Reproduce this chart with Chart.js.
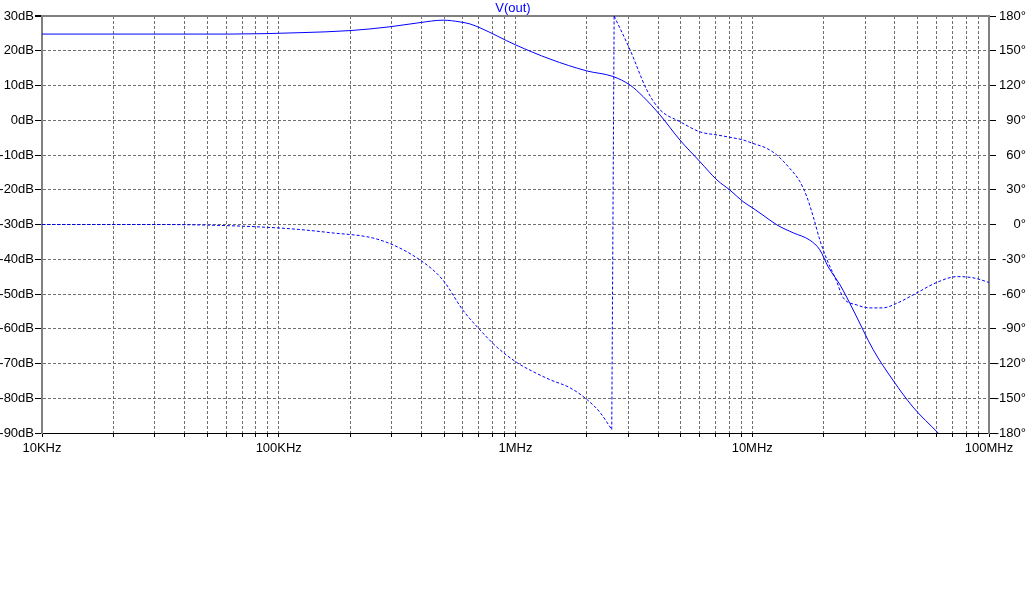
<!DOCTYPE html>
<html>
<head>
<meta charset="utf-8">
<script src="https://cdn.jsdelivr.net/npm/chart.js@4.4.1/dist/chart.umd.min.js"></script>
<style>
  body { margin: 0; background: #fff; }
  canvas { display: block; }
</style>
</head>
<body>
<canvas id="bode" width="1026" height="600"></canvas>
<script>
// magnitude (solid)
const magFreq = [1e4, 6.23e4, 1.23e5, 2.0e5, 2.95e5, 3.95e5, 4.94e5, 5.83e5, 6.43e5, 7.08e5,
  1.0e6, 1.4e6, 2.0e6, 2.58e6, 3.05e6, 3.46e6, 4.08e6, 4.95e6, 6.01e6, 7.1e6,
  8.05e6, 9.14e6, 1.007e7, 1.11e7, 1.27e7, 1.49e7, 1.75e7, 1.93e7, 2.09e7, 2.35e7,
  2.67e7, 3.24e7, 3.93e7, 4.77e7, 6.1e7];
const magDb = [24.8, 24.8, 25.2, 25.8, 26.9, 28.1, 28.8, 28.3, 27.7, 26.6,
  21.7, 17.6, 14.2, 12.6, 10.1, 6.8, 1.5, -5.7, -11.9, -17.2,
  -20.1, -23.4, -25.3, -27.3, -30.1, -32.4, -34.5, -37.3, -42.1, -47.4,
  -54.6, -66, -74.8, -82.5, -90];

// phase (dotted), before and after the wrap at -180/+180
const phaseLowFreq = [1e4, 3e4, 1e5, 1.64e5, 2.68e5, 3.95e5, 4.94e5, 6.0e5, 7.08e5, 8.36e5,
  1.01e6, 1.15e6, 1.4e6, 1.7e6, 2.0e6, 2.27e6, 2.55e6];
const phaseLowDeg = [0, 0, -3, -7, -13.4, -30.6, -48, -74, -91, -106,
  -119, -125.6, -134, -141, -151, -162, -177];
const phaseHighFreq = [2.61e6, 3.05e6, 3.59e6, 4.08e6, 4.95e6, 6.01e6, 7.1e6, 8.05e6, 9.14e6,
  1.007e7, 1.15e7, 1.27e7, 1.44e7, 1.59e7, 1.7e7, 1.81e7, 1.93e7, 2.07e7, 2.26e7,
  2.42e7, 2.77e7, 3.14e7, 3.56e7, 4.08e7, 4.96e7, 6.02e7, 7.32e7, 8.56e7, 1e8];
const phaseHighDeg = [180, 150.6, 116, 99, 88.8, 80, 77.3, 75.3, 73,
  70, 65.8, 60, 48.5, 37, 24, 6.7, -13.4, -30.6, -48,
  -63, -69.5, -72, -72, -68, -59, -50, -45, -46, -50];

const decadeFreq = [1e4, 1e5, 1e6, 1e7, 1e8];
const decadeLabels = ['10KHz', '100KHz', '1MHz', '10MHz', '100MHz'];

const gridFreq = [];
for (let d = 0; d < decadeFreq.length - 1; d++) {
  for (let m = 1; m <= 9; m++) gridFreq.push(decadeFreq[d] * m);
}
gridFreq.push(decadeFreq[decadeFreq.length - 1]);

const pts = (xs, ys) => xs.map((x, i) => ({ x: x, y: ys[i] }));
const font = { family: '"Liberation Sans", Arial, sans-serif', size: 13 };
const blue = '#0000ff';
const gridGray = '#707070';
const frameGray = '#808080';

new Chart(document.getElementById('bode'), {
  type: 'line',
  data: {
    datasets: [
      {
        data: pts(magFreq, magDb), yAxisID: 'y',
        borderColor: blue, borderWidth: 1, pointRadius: 0,
        cubicInterpolationMode: 'monotone'
      },
      {
        data: pts(phaseLowFreq, phaseLowDeg), yAxisID: 'y1',
        borderColor: blue, borderWidth: 1, borderDash: [3, 2], pointRadius: 0,
        cubicInterpolationMode: 'monotone'
      },
      {
        data: [
          { x: phaseLowFreq[phaseLowFreq.length - 1], y: phaseLowDeg[phaseLowDeg.length - 1] },
          { x: phaseHighFreq[0], y: phaseHighDeg[0] }
        ],
        yAxisID: 'y1',
        borderColor: blue, borderWidth: 1, borderDash: [3, 2], pointRadius: 0, tension: 0
      },
      {
        data: pts(phaseHighFreq, phaseHighDeg), yAxisID: 'y1',
        borderColor: blue, borderWidth: 1, borderDash: [3, 2], pointRadius: 0,
        cubicInterpolationMode: 'monotone'
      }
    ]
  },
  options: {
    responsive: false,
    animation: false,
    devicePixelRatio: 1,
    layout: { padding: 0 },
    plugins: {
      legend: { display: false },
      tooltip: { enabled: false },
      title: {
        display: true, text: 'V(out)', color: blue, padding: 0,
        font: { family: font.family, size: 13, weight: 'normal', lineHeight: 16 / 13 }
      }
    },
    scales: {
      x: {
        type: 'logarithmic', min: 1e4, max: 1e8,
        afterBuildTicks: s => { s.ticks = gridFreq.map(v => ({ value: v })); },
        afterFit: s => { s.height = 167; },
        ticks: {
          autoSkip: false, maxRotation: 0, minRotation: 0, color: '#000', font: font, padding: 4,
          callback: v => {
            const i = decadeFreq.findIndex(d => Math.abs(v - d) / d < 1e-6);
            return i >= 0 ? decadeLabels[i] : '';
          }
        },
        grid: {
          color: c => (c.tick && (c.tick.value === 1e4 || c.tick.value === 1e8)) ? 'rgba(0,0,0,0)' : gridGray,
          tickColor: '#000', tickLength: 4
        },
        border: { color: '#000', width: 1, dash: [3, 2] }
      },
      y: {
        type: 'linear', position: 'left', min: -90, max: 30,
        afterFit: s => { s.width = 42; },
        ticks: { stepSize: 10, color: '#000', font: font, padding: 1, callback: v => v + 'dB' },
        grid: {
          color: c => !c.tick ? gridGray : c.tick.value === 30 ? frameGray : c.tick.value === -90 ? '#000' : gridGray,
          lineWidth: c => (c.tick && c.tick.value === 30) ? 2 : 1,
          tickColor: '#000', tickLength: 7
        },
        border: {
          color: frameGray, width: 2,
          dash: c => (c.tick && (c.tick.value === 30 || c.tick.value === -90)) ? [] : [3, 2]
        }
      },
      y1: {
        type: 'linear', position: 'right', min: -180, max: 180,
        afterFit: s => { s.width = 37; },
        ticks: { stepSize: 30, color: '#000', font: font, padding: 0, crossAlign: 'far', callback: v => v + '°' },
        grid: { drawOnChartArea: false, tickColor: '#000', tickLength: 7 },
        border: { color: frameGray, width: 2 }
      }
    }
  }
});
</script>
</body>
</html>
